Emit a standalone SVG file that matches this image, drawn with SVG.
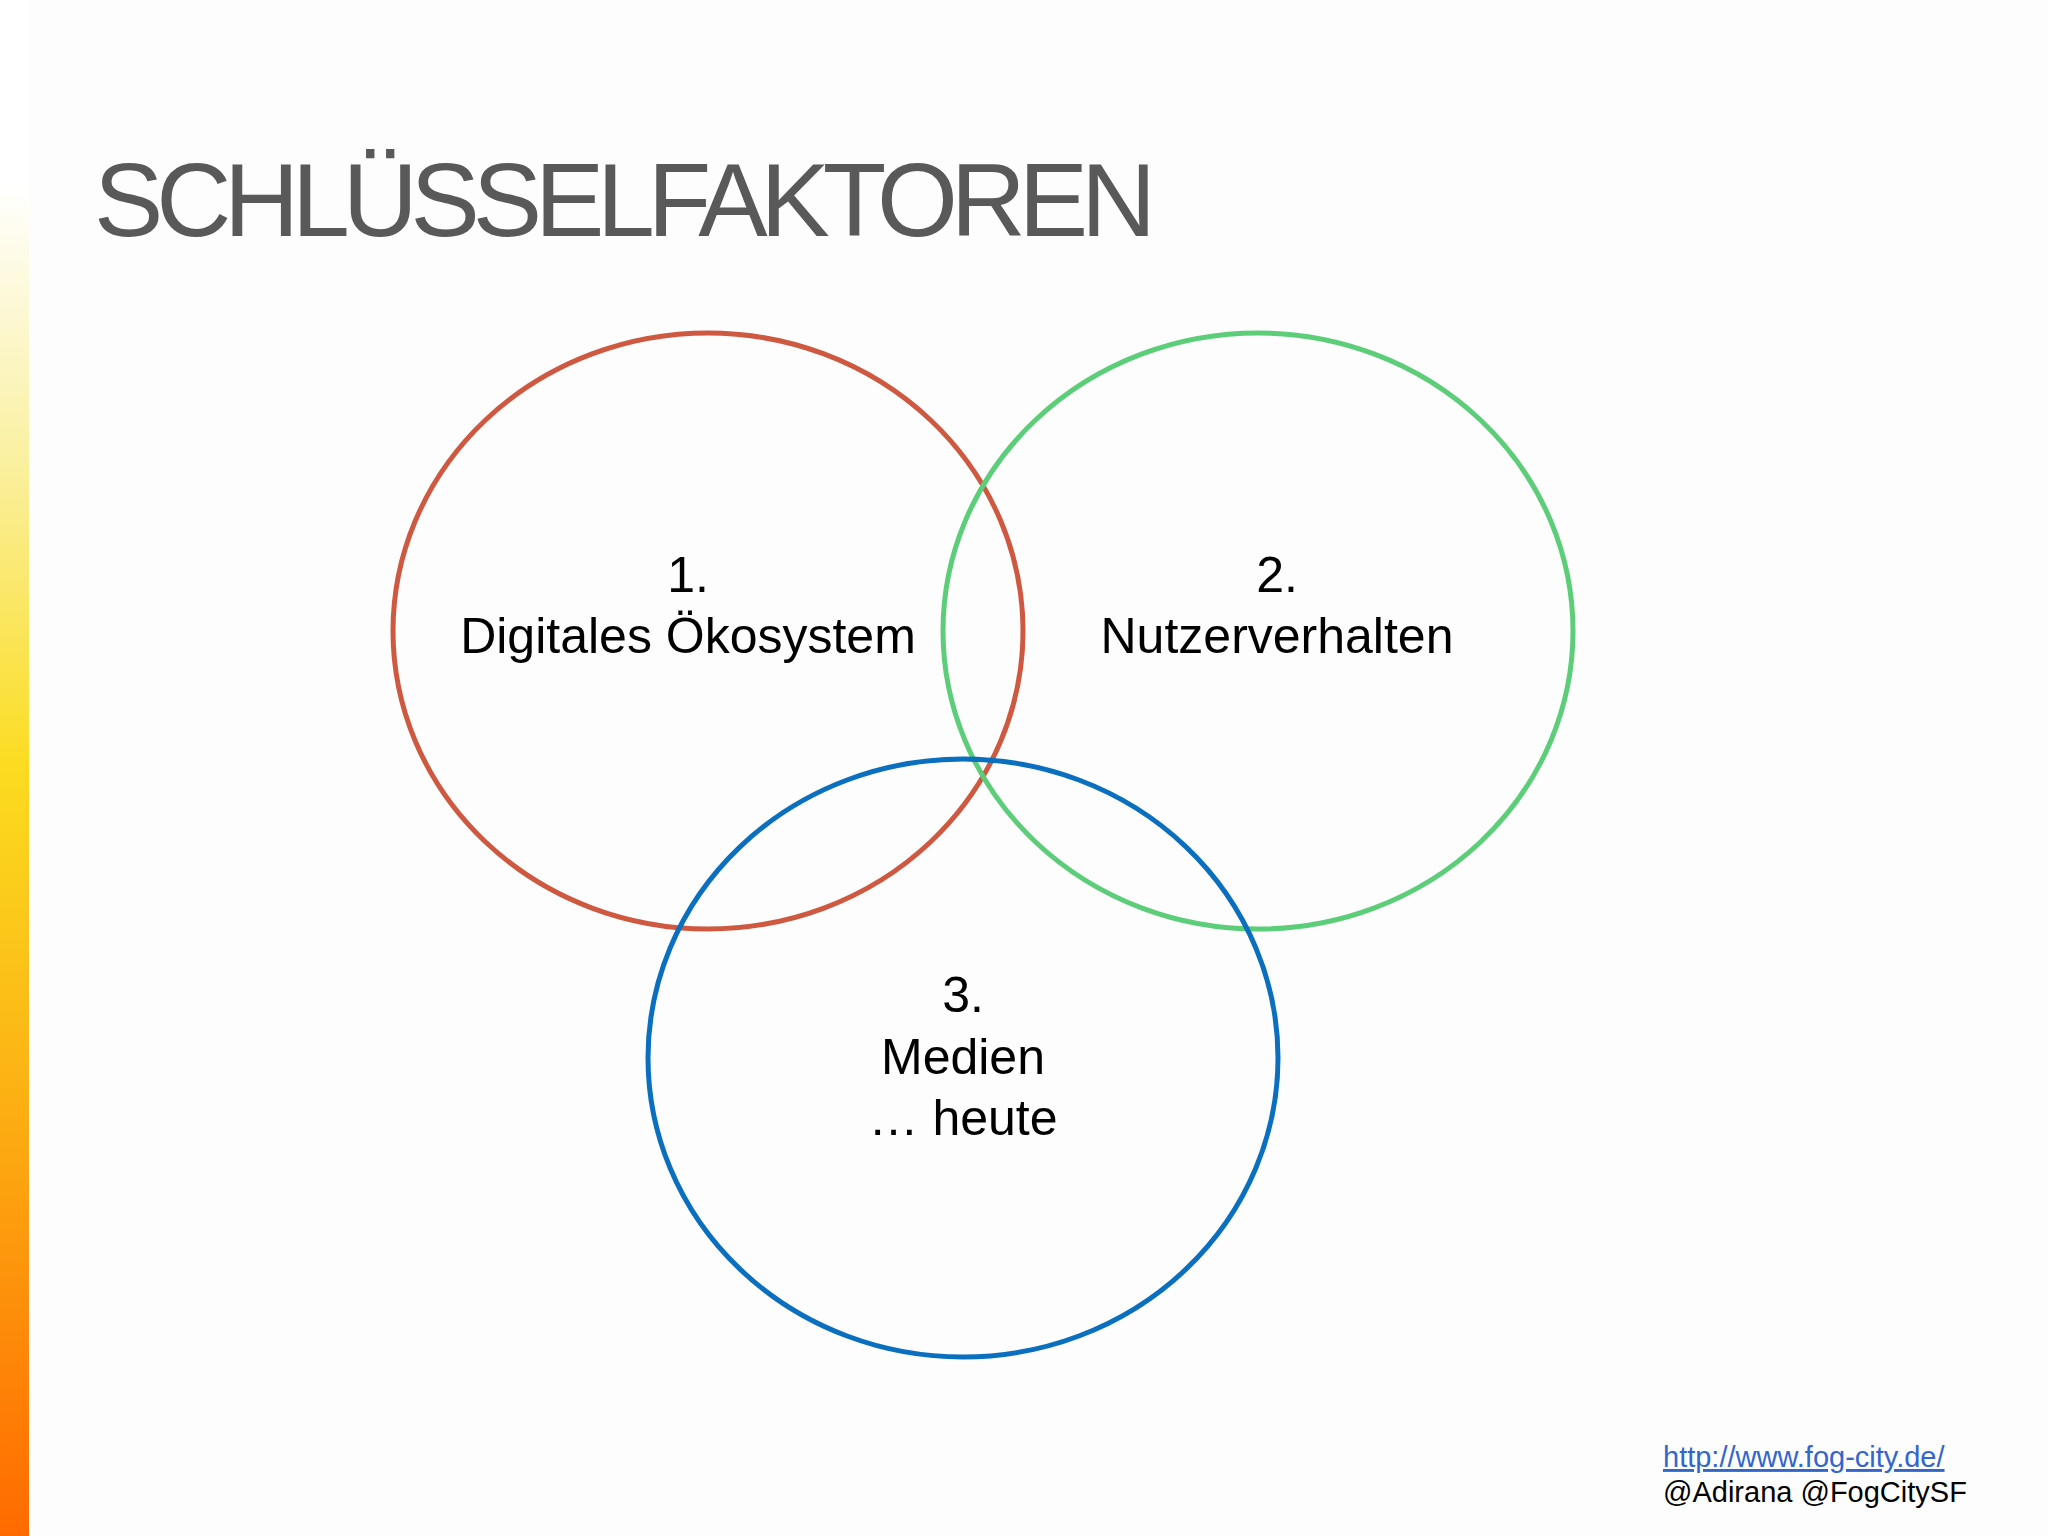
<svg xmlns="http://www.w3.org/2000/svg" width="2048" height="1536" viewBox="0 0 2048 1536">
<defs>
<linearGradient id="bar" x1="0" y1="0" x2="0" y2="1">
<stop offset="0" stop-color="#ffffff"/>
<stop offset="0.12" stop-color="#ffffff"/>
<stop offset="0.3" stop-color="#faf0a0"/>
<stop offset="0.5" stop-color="#fbdc20"/>
<stop offset="0.7" stop-color="#fcb414"/>
<stop offset="1" stop-color="#ff6a00"/>
</linearGradient>
</defs>
<style>
.c{fill:none;stroke-width:5}
.t{font-family:"Liberation Sans",Arial,sans-serif;font-size:50px;fill:#000;text-anchor:middle}
.f{font-family:"Liberation Sans",Arial,sans-serif;font-size:29px}
</style>
<rect width="2048" height="1536" fill="#fdfdfd"/>
<rect x="0" y="0" width="29" height="1536" fill="url(#bar)"/>
<text x="94" y="236" font-family="Liberation Sans,Arial,sans-serif" font-size="104" fill="#595959" textLength="1062">SCHLÜSSELFAKTOREN</text>
<g id="node1"><ellipse class="c" cx="708" cy="631" rx="315" ry="298" stroke="#cf5840"/>
<text class="t" x="688" y="592">1.</text><text class="t" x="688" y="653">Digitales Ökosystem</text></g>
<g id="node2"><ellipse class="c" cx="1258" cy="631" rx="315" ry="298" stroke="#5ccd78"/>
<text class="t" x="1277" y="592">2.</text><text class="t" x="1277" y="653">Nutzerverhalten</text></g>
<g id="node3"><ellipse class="c" cx="963" cy="1058" rx="315" ry="299" stroke="#0a6fbe"/>
<text class="t" x="963" y="1012">3.</text><text class="t" x="963" y="1074">Medien</text><text class="t" x="963" y="1135">… heute</text></g>
<g id="connectors"/>
<text class="f" x="1663" y="1467" fill="#3366cc" text-decoration="underline">http://www.fog-city.de/</text>
<text class="f" x="1663" y="1502" fill="#000">@Adirana @FogCitySF</text>
</svg>
